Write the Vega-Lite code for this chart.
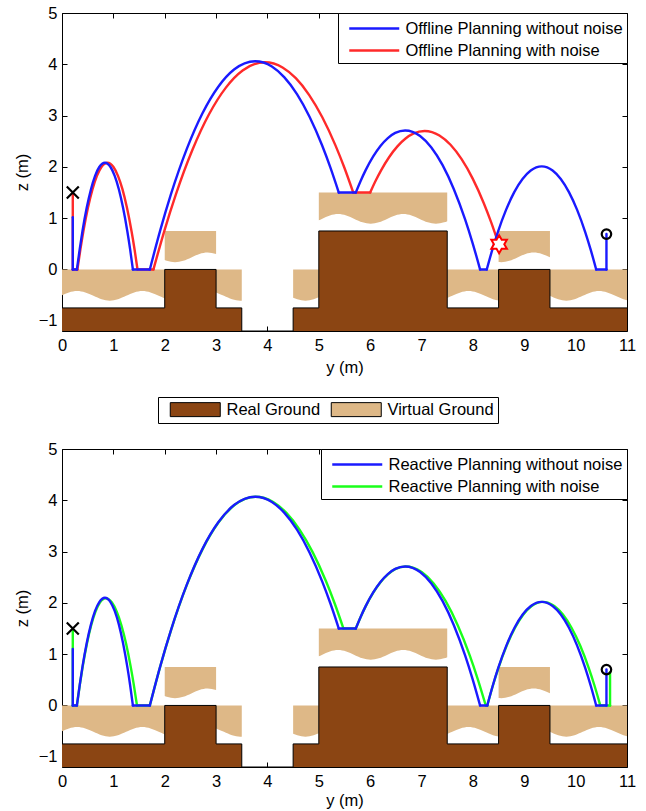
{
  "$schema": "https://vega.github.io/schema/vega-lite/v6.json",
  "background": "white",
  "padding": {"left": 13, "top": 4, "right": 8, "bottom": 2},
  "config": {
    "font": "Liberation Sans",
    "view": {"stroke": "black", "strokeWidth": 1},
    "axis": {"grid": false, "domain": false, "ticks": true, "tickColor": "#000000", "tickSize": -5, "tickWidth": 1, "labelFontSize": 16.5, "labelColor": "black", "labelFont": "Liberation Sans", "titleFontSize": 16.5, "titleFontWeight": "normal", "titleColor": "black", "titleFont": "Liberation Sans", "labelOverlap": false, "labelFlush": false},
    "legend": {"labelFont": "Liberation Sans", "labelFontSize": 16.5, "labelColor": "black", "labelLimit": 400}
  },
  "spacing": 16,
  "resolve": {"scale": {"stroke": "independent", "fill": "independent"}, "legend": {"stroke": "independent", "fill": "independent"}},
  "datasets": {
    "real": [{"y":0,"z":-0.75},{"y":2,"z":0},{"y":3,"z":-0.75},{"y":3.5,"z":-1.2},{"y":4.5,"z":-0.75},{"y":5,"z":0.75},{"y":7.5,"z":-0.75},{"y":8.5,"z":0},{"y":9.5,"z":-0.75},{"y":11,"z":-0.75}],
    "virtual": [
      {"blk":"V1","y":0,"top":0,"bot":-0.504},{"blk":"V1","y":0.135,"top":0,"bot":-0.448},{"blk":"V1","y":0.294,"top":0,"bot":-0.42},{"blk":"V1","y":0.453,"top":0,"bot":-0.448},{"blk":"V1","y":0.612,"top":0,"bot":-0.515},{"blk":"V1","y":0.771,"top":0,"bot":-0.582},{"blk":"V1","y":0.93,"top":0,"bot":-0.61},{"blk":"V1","y":1.089,"top":0,"bot":-0.582},{"blk":"V1","y":1.248,"top":0,"bot":-0.515},{"blk":"V1","y":1.406,"top":0,"bot":-0.448},{"blk":"V1","y":1.565,"top":0,"bot":-0.42},{"blk":"V1","y":1.724,"top":0,"bot":-0.448},{"blk":"V1","y":1.883,"top":0,"bot":-0.515},{"blk":"V1","y":2,"top":0,"bot":-0.567},
      {"blk":"V2","y":2,"top":0.75,"bot":0.183},{"blk":"V2","y":2.041,"top":0.75,"bot":0.168},{"blk":"V2","y":2.2,"top":0.75,"bot":0.14},{"blk":"V2","y":2.359,"top":0.75,"bot":0.168},{"blk":"V2","y":2.518,"top":0.75,"bot":0.235},{"blk":"V2","y":2.676,"top":0.75,"bot":0.302},{"blk":"V2","y":2.835,"top":0.75,"bot":0.33},{"blk":"V2","y":3,"top":0.75,"bot":0.3},
      {"blk":"V3","y":3,"top":0,"bot":-0.45},{"blk":"V3","y":3.153,"top":0,"bot":-0.515},{"blk":"V3","y":3.311,"top":0,"bot":-0.582},{"blk":"V3","y":3.47,"top":0,"bot":-0.61},{"blk":"V3","y":3.5,"top":0,"bot":-0.609},
      {"blk":"V4","y":4.5,"top":0,"bot":-0.551},{"blk":"V4","y":4.581,"top":0,"bot":-0.582},{"blk":"V4","y":4.74,"top":0,"bot":-0.61},{"blk":"V4","y":4.899,"top":0,"bot":-0.582},{"blk":"V4","y":5,"top":0,"bot":-0.542},
      {"blk":"V5","y":5,"top":1.5,"bot":0.958},{"blk":"V5","y":5.058,"top":1.5,"bot":0.985},{"blk":"V5","y":5.216,"top":1.5,"bot":1.052},{"blk":"V5","y":5.375,"top":1.5,"bot":1.08},{"blk":"V5","y":5.534,"top":1.5,"bot":1.052},{"blk":"V5","y":5.693,"top":1.5,"bot":0.985},{"blk":"V5","y":5.851,"top":1.5,"bot":0.918},{"blk":"V5","y":6.01,"top":1.5,"bot":0.89},{"blk":"V5","y":6.169,"top":1.5,"bot":0.918},{"blk":"V5","y":6.328,"top":1.5,"bot":0.985},{"blk":"V5","y":6.486,"top":1.5,"bot":1.052},{"blk":"V5","y":6.645,"top":1.5,"bot":1.08},{"blk":"V5","y":6.804,"top":1.5,"bot":1.052},{"blk":"V5","y":6.963,"top":1.5,"bot":0.985},{"blk":"V5","y":7.121,"top":1.5,"bot":0.918},{"blk":"V5","y":7.28,"top":1.5,"bot":0.89},{"blk":"V5","y":7.439,"top":1.5,"bot":0.918},{"blk":"V5","y":7.5,"top":1.5,"bot":0.941},
      {"blk":"V6","y":7.5,"top":0,"bot":-0.559},{"blk":"V6","y":7.598,"top":0,"bot":-0.515},{"blk":"V6","y":7.756,"top":0,"bot":-0.448},{"blk":"V6","y":7.915,"top":0,"bot":-0.42},{"blk":"V6","y":8.074,"top":0,"bot":-0.448},{"blk":"V6","y":8.233,"top":0,"bot":-0.515},{"blk":"V6","y":8.391,"top":0,"bot":-0.582},{"blk":"V6","y":8.5,"top":0,"bot":-0.607},
      {"blk":"V7","y":8.5,"top":0.75,"bot":0.143},{"blk":"V7","y":8.55,"top":0.75,"bot":0.14},{"blk":"V7","y":8.709,"top":0.75,"bot":0.168},{"blk":"V7","y":8.868,"top":0.75,"bot":0.235},{"blk":"V7","y":9.026,"top":0.75,"bot":0.302},{"blk":"V7","y":9.185,"top":0.75,"bot":0.33},{"blk":"V7","y":9.344,"top":0.75,"bot":0.302},{"blk":"V7","y":9.5,"top":0.75,"bot":0.236},
      {"blk":"V8","y":9.5,"top":0,"bot":-0.514},{"blk":"V8","y":9.661,"top":0,"bot":-0.582},{"blk":"V8","y":9.82,"top":0,"bot":-0.61},{"blk":"V8","y":9.979,"top":0,"bot":-0.582},{"blk":"V8","y":10.138,"top":0,"bot":-0.515},{"blk":"V8","y":10.296,"top":0,"bot":-0.448},{"blk":"V8","y":10.455,"top":0,"bot":-0.42},{"blk":"V8","y":10.614,"top":0,"bot":-0.448},{"blk":"V8","y":10.773,"top":0,"bot":-0.515},{"blk":"V8","y":10.931,"top":0,"bot":-0.582},{"blk":"V8","y":11,"top":0,"bot":-0.601}
    ],
    "markers": [
      {"p":"top","k":"x","y":0.21,"z":1.5},{"p":"top","k":"o","y":10.6,"z":0.69},{"p":"top","k":"star","y":8.51,"z":0.49},
      {"p":"bot","k":"x","y":0.21,"z":1.5},{"p":"bot","k":"o","y":10.6,"z":0.7}
    ],
    "offline": [
      {"s":"with noise","g":"r1","y":0.21,"z":1.5},{"s":"with noise","g":"r1","y":0.21,"z":0},
      {"s":"with noise","g":"r2","y":0.21,"z":0},{"s":"with noise","g":"r2","y":0.3,"z":0},
      {"s":"with noise","g":"r3","y":0.3,"z":0},{"s":"with noise","g":"r3","y":0.359,"z":0.395},{"s":"with noise","g":"r3","y":0.417,"z":0.749},{"s":"with noise","g":"r3","y":0.505,"z":1.201},{"s":"with noise","g":"r3","y":0.593,"z":1.56},{"s":"with noise","g":"r3","y":0.68,"z":1.825},{"s":"with noise","g":"r3","y":0.768,"z":1.997},{"s":"with noise","g":"r3","y":0.885,"z":2.08},{"s":"with noise","g":"r3","y":1.002,"z":1.997},{"s":"with noise","g":"r3","y":1.09,"z":1.825},{"s":"with noise","g":"r3","y":1.178,"z":1.56},{"s":"with noise","g":"r3","y":1.265,"z":1.201},{"s":"with noise","g":"r3","y":1.353,"z":0.749},{"s":"with noise","g":"r3","y":1.412,"z":0.395},{"s":"with noise","g":"r3","y":1.47,"z":0},
      {"s":"with noise","g":"r4","y":1.47,"z":0},{"s":"with noise","g":"r4","y":1.78,"z":0},
      {"s":"with noise","g":"r5","y":1.78,"z":0},{"s":"with noise","g":"r5","y":1.997,"z":0.768},{"s":"with noise","g":"r5","y":2.214,"z":1.454},{"s":"with noise","g":"r5","y":2.54,"z":2.333},{"s":"with noise","g":"r5","y":2.865,"z":3.03},{"s":"with noise","g":"r5","y":3.191,"z":3.545},{"s":"with noise","g":"r5","y":3.516,"z":3.878},{"s":"with noise","g":"r5","y":3.95,"z":4.04},{"s":"with noise","g":"r5","y":4.294,"z":3.938},{"s":"with noise","g":"r5","y":4.552,"z":3.729},{"s":"with noise","g":"r5","y":4.81,"z":3.405},{"s":"with noise","g":"r5","y":5.068,"z":2.967},{"s":"with noise","g":"r5","y":5.326,"z":2.414},{"s":"with noise","g":"r5","y":5.498,"z":1.983},{"s":"with noise","g":"r5","y":5.67,"z":1.5},
      {"s":"with noise","g":"r6","y":5.67,"z":1.5},{"s":"with noise","g":"r6","y":6.0,"z":1.5},
      {"s":"with noise","g":"r7","y":6.0,"z":1.5},{"s":"with noise","g":"r7","y":6.106,"z":1.728},{"s":"with noise","g":"r7","y":6.212,"z":1.932},{"s":"with noise","g":"r7","y":6.371,"z":2.193},{"s":"with noise","g":"r7","y":6.53,"z":2.4},{"s":"with noise","g":"r7","y":6.689,"z":2.553},{"s":"with noise","g":"r7","y":6.848,"z":2.652},{"s":"with noise","g":"r7","y":7.06,"z":2.7},{"s":"with noise","g":"r7","y":7.348,"z":2.612},{"s":"with noise","g":"r7","y":7.564,"z":2.431},{"s":"with noise","g":"r7","y":7.78,"z":2.15},{"s":"with noise","g":"r7","y":7.996,"z":1.771},{"s":"with noise","g":"r7","y":8.212,"z":1.292},{"s":"with noise","g":"r7","y":8.356,"z":0.918},{"s":"with noise","g":"r7","y":8.5,"z":0.5},
      {"s":"without noise","g":"b1","y":0.21,"z":1.02},{"s":"without noise","g":"b1","y":0.21,"z":0},
      {"s":"without noise","g":"b2","y":0.21,"z":0},{"s":"without noise","g":"b2","y":0.29,"z":0},
      {"s":"without noise","g":"b3","y":0.29,"z":0},{"s":"without noise","g":"b3","y":0.345,"z":0.395},{"s":"without noise","g":"b3","y":0.399,"z":0.749},{"s":"without noise","g":"b3","y":0.481,"z":1.201},{"s":"without noise","g":"b3","y":0.563,"z":1.56},{"s":"without noise","g":"b3","y":0.644,"z":1.825},{"s":"without noise","g":"b3","y":0.726,"z":1.997},{"s":"without noise","g":"b3","y":0.835,"z":2.08},{"s":"without noise","g":"b3","y":0.944,"z":1.997},{"s":"without noise","g":"b3","y":1.026,"z":1.825},{"s":"without noise","g":"b3","y":1.108,"z":1.56},{"s":"without noise","g":"b3","y":1.189,"z":1.201},{"s":"without noise","g":"b3","y":1.271,"z":0.749},{"s":"without noise","g":"b3","y":1.326,"z":0.395},{"s":"without noise","g":"b3","y":1.38,"z":0},
      {"s":"without noise","g":"b4","y":1.38,"z":0},{"s":"without noise","g":"b4","y":1.71,"z":0},
      {"s":"without noise","g":"b5","y":1.71,"z":0},{"s":"without noise","g":"b5","y":1.915,"z":0.771},{"s":"without noise","g":"b5","y":2.12,"z":1.462},{"s":"without noise","g":"b5","y":2.428,"z":2.345},{"s":"without noise","g":"b5","y":2.735,"z":3.045},{"s":"without noise","g":"b5","y":3.043,"z":3.563},{"s":"without noise","g":"b5","y":3.35,"z":3.898},{"s":"without noise","g":"b5","y":3.76,"z":4.06},{"s":"without noise","g":"b5","y":4.086,"z":3.958},{"s":"without noise","g":"b5","y":4.33,"z":3.746},{"s":"without noise","g":"b5","y":4.575,"z":3.42},{"s":"without noise","g":"b5","y":4.819,"z":2.978},{"s":"without noise","g":"b5","y":5.063,"z":2.422},{"s":"without noise","g":"b5","y":5.226,"z":1.986},{"s":"without noise","g":"b5","y":5.389,"z":1.5},
      {"s":"without noise","g":"b6","y":5.389,"z":1.5},{"s":"without noise","g":"b6","y":5.72,"z":1.5},
      {"s":"without noise","g":"b7","y":5.72,"z":1.5},{"s":"without noise","g":"b7","y":5.816,"z":1.73},{"s":"without noise","g":"b7","y":5.912,"z":1.936},{"s":"without noise","g":"b7","y":6.056,"z":2.199},{"s":"without noise","g":"b7","y":6.2,"z":2.408},{"s":"without noise","g":"b7","y":6.344,"z":2.562},{"s":"without noise","g":"b7","y":6.488,"z":2.662},{"s":"without noise","g":"b7","y":6.68,"z":2.71},{"s":"without noise","g":"b7","y":6.972,"z":2.602},{"s":"without noise","g":"b7","y":7.191,"z":2.378},{"s":"without noise","g":"b7","y":7.41,"z":2.033},{"s":"without noise","g":"b7","y":7.629,"z":1.565},{"s":"without noise","g":"b7","y":7.848,"z":0.976},{"s":"without noise","g":"b7","y":7.994,"z":0.515},{"s":"without noise","g":"b7","y":8.14,"z":0},
      {"s":"without noise","g":"b8","y":8.14,"z":0},{"s":"without noise","g":"b8","y":8.27,"z":0},
      {"s":"without noise","g":"b9","y":8.27,"z":0},{"s":"without noise","g":"b9","y":8.377,"z":0.382},{"s":"without noise","g":"b9","y":8.484,"z":0.724},{"s":"without noise","g":"b9","y":8.645,"z":1.161},{"s":"without noise","g":"b9","y":8.805,"z":1.508},{"s":"without noise","g":"b9","y":8.966,"z":1.764},{"s":"without noise","g":"b9","y":9.126,"z":1.93},{"s":"without noise","g":"b9","y":9.34,"z":2.01},{"s":"without noise","g":"b9","y":9.552,"z":1.93},{"s":"without noise","g":"b9","y":9.711,"z":1.764},{"s":"without noise","g":"b9","y":9.87,"z":1.508},{"s":"without noise","g":"b9","y":10.029,"z":1.161},{"s":"without noise","g":"b9","y":10.188,"z":0.724},{"s":"without noise","g":"b9","y":10.294,"z":0.382},{"s":"without noise","g":"b9","y":10.4,"z":0},
      {"s":"without noise","g":"b10","y":10.4,"z":0},{"s":"without noise","g":"b10","y":10.6,"z":0},
      {"s":"without noise","g":"b11","y":10.6,"z":0},{"s":"without noise","g":"b11","y":10.6,"z":0.69}
    ],
    "reactive": [
      {"s":"with noise","g":"g1","y":0.21,"z":1.5},{"s":"with noise","g":"g1","y":0.21,"z":0},
      {"s":"with noise","g":"g2","y":0.21,"z":0},{"s":"with noise","g":"g2","y":0.29,"z":0},
      {"s":"with noise","g":"g3","y":0.29,"z":0},{"s":"with noise","g":"g3","y":0.346,"z":0.397},{"s":"with noise","g":"g3","y":0.402,"z":0.752},{"s":"with noise","g":"g3","y":0.486,"z":1.207},{"s":"with noise","g":"g3","y":0.57,"z":1.568},{"s":"with noise","g":"g3","y":0.654,"z":1.834},{"s":"with noise","g":"g3","y":0.738,"z":2.006},{"s":"with noise","g":"g3","y":0.85,"z":2.09},{"s":"with noise","g":"g3","y":0.972,"z":2.006},{"s":"with noise","g":"g3","y":1.064,"z":1.834},{"s":"with noise","g":"g3","y":1.155,"z":1.568},{"s":"with noise","g":"g3","y":1.247,"z":1.207},{"s":"with noise","g":"g3","y":1.338,"z":0.752},{"s":"with noise","g":"g3","y":1.399,"z":0.397},{"s":"with noise","g":"g3","y":1.46,"z":0},
      {"s":"with noise","g":"g4","y":1.46,"z":0},{"s":"with noise","g":"g4","y":1.71,"z":0},
      {"s":"with noise","g":"g5","y":1.71,"z":0},{"s":"with noise","g":"g5","y":1.916,"z":0.773},{"s":"with noise","g":"g5","y":2.122,"z":1.465},{"s":"with noise","g":"g5","y":2.431,"z":2.35},{"s":"with noise","g":"g5","y":2.74,"z":3.053},{"s":"with noise","g":"g5","y":3.049,"z":3.571},{"s":"with noise","g":"g5","y":3.358,"z":3.907},{"s":"with noise","g":"g5","y":3.77,"z":4.07},{"s":"with noise","g":"g5","y":4.112,"z":3.967},{"s":"with noise","g":"g5","y":4.369,"z":3.755},{"s":"with noise","g":"g5","y":4.625,"z":3.428},{"s":"with noise","g":"g5","y":4.882,"z":2.984},{"s":"with noise","g":"g5","y":5.138,"z":2.425},{"s":"with noise","g":"g5","y":5.309,"z":1.988},{"s":"with noise","g":"g5","y":5.48,"z":1.5},
      {"s":"with noise","g":"g6","y":5.48,"z":1.5},{"s":"with noise","g":"g6","y":5.72,"z":1.5},
      {"s":"with noise","g":"g7","y":5.72,"z":1.5},{"s":"with noise","g":"g7","y":5.817,"z":1.73},{"s":"with noise","g":"g7","y":5.914,"z":1.936},{"s":"with noise","g":"g7","y":6.06,"z":2.199},{"s":"with noise","g":"g7","y":6.205,"z":2.408},{"s":"with noise","g":"g7","y":6.351,"z":2.562},{"s":"with noise","g":"g7","y":6.496,"z":2.662},{"s":"with noise","g":"g7","y":6.69,"z":2.71},{"s":"with noise","g":"g7","y":7.002,"z":2.602},{"s":"with noise","g":"g7","y":7.236,"z":2.378},{"s":"with noise","g":"g7","y":7.47,"z":2.033},{"s":"with noise","g":"g7","y":7.704,"z":1.565},{"s":"with noise","g":"g7","y":7.938,"z":0.976},{"s":"with noise","g":"g7","y":8.094,"z":0.515},{"s":"with noise","g":"g7","y":8.25,"z":0},
      {"s":"with noise","g":"g8","y":8.25,"z":0},{"s":"with noise","g":"g8","y":8.28,"z":0},
      {"s":"with noise","g":"g9","y":8.28,"z":0},{"s":"with noise","g":"g9","y":8.388,"z":0.384},{"s":"with noise","g":"g9","y":8.496,"z":0.727},{"s":"with noise","g":"g9","y":8.658,"z":1.167},{"s":"with noise","g":"g9","y":8.82,"z":1.515},{"s":"with noise","g":"g9","y":8.982,"z":1.773},{"s":"with noise","g":"g9","y":9.144,"z":1.939},{"s":"with noise","g":"g9","y":9.36,"z":2.02},{"s":"with noise","g":"g9","y":9.584,"z":1.939},{"s":"with noise","g":"g9","y":9.752,"z":1.773},{"s":"with noise","g":"g9","y":9.92,"z":1.515},{"s":"with noise","g":"g9","y":10.088,"z":1.167},{"s":"with noise","g":"g9","y":10.256,"z":0.727},{"s":"with noise","g":"g9","y":10.368,"z":0.384},{"s":"with noise","g":"g9","y":10.48,"z":0},
      {"s":"with noise","g":"g10","y":10.48,"z":0},{"s":"with noise","g":"g10","y":10.67,"z":0},
      {"s":"with noise","g":"g11","y":10.67,"z":0},{"s":"with noise","g":"g11","y":10.67,"z":0.65},
      {"s":"without noise","g":"b1","y":0.21,"z":1.1},{"s":"without noise","g":"b1","y":0.21,"z":0},
      {"s":"without noise","g":"b2","y":0.21,"z":0},{"s":"without noise","g":"b2","y":0.29,"z":0},
      {"s":"without noise","g":"b3","y":0.29,"z":0},{"s":"without noise","g":"b3","y":0.345,"z":0.399},{"s":"without noise","g":"b3","y":0.399,"z":0.756},{"s":"without noise","g":"b3","y":0.481,"z":1.213},{"s":"without noise","g":"b3","y":0.563,"z":1.575},{"s":"without noise","g":"b3","y":0.644,"z":1.843},{"s":"without noise","g":"b3","y":0.726,"z":2.016},{"s":"without noise","g":"b3","y":0.835,"z":2.1},{"s":"without noise","g":"b3","y":0.944,"z":2.016},{"s":"without noise","g":"b3","y":1.026,"z":1.843},{"s":"without noise","g":"b3","y":1.108,"z":1.575},{"s":"without noise","g":"b3","y":1.189,"z":1.213},{"s":"without noise","g":"b3","y":1.271,"z":0.756},{"s":"without noise","g":"b3","y":1.326,"z":0.399},{"s":"without noise","g":"b3","y":1.38,"z":0},
      {"s":"without noise","g":"b4","y":1.38,"z":0},{"s":"without noise","g":"b4","y":1.71,"z":0},
      {"s":"without noise","g":"b5","y":1.71,"z":0},{"s":"without noise","g":"b5","y":1.915,"z":0.773},{"s":"without noise","g":"b5","y":2.12,"z":1.465},{"s":"without noise","g":"b5","y":2.428,"z":2.35},{"s":"without noise","g":"b5","y":2.735,"z":3.053},{"s":"without noise","g":"b5","y":3.043,"z":3.571},{"s":"without noise","g":"b5","y":3.35,"z":3.907},{"s":"without noise","g":"b5","y":3.76,"z":4.07},{"s":"without noise","g":"b5","y":4.086,"z":3.967},{"s":"without noise","g":"b5","y":4.33,"z":3.755},{"s":"without noise","g":"b5","y":4.575,"z":3.428},{"s":"without noise","g":"b5","y":4.819,"z":2.984},{"s":"without noise","g":"b5","y":5.063,"z":2.425},{"s":"without noise","g":"b5","y":5.226,"z":1.988},{"s":"without noise","g":"b5","y":5.389,"z":1.5},
      {"s":"without noise","g":"b6","y":5.389,"z":1.5},{"s":"without noise","g":"b6","y":5.72,"z":1.5},
      {"s":"without noise","g":"b7","y":5.72,"z":1.5},{"s":"without noise","g":"b7","y":5.816,"z":1.73},{"s":"without noise","g":"b7","y":5.912,"z":1.936},{"s":"without noise","g":"b7","y":6.056,"z":2.199},{"s":"without noise","g":"b7","y":6.2,"z":2.408},{"s":"without noise","g":"b7","y":6.344,"z":2.562},{"s":"without noise","g":"b7","y":6.488,"z":2.662},{"s":"without noise","g":"b7","y":6.68,"z":2.71},{"s":"without noise","g":"b7","y":6.972,"z":2.602},{"s":"without noise","g":"b7","y":7.191,"z":2.378},{"s":"without noise","g":"b7","y":7.41,"z":2.033},{"s":"without noise","g":"b7","y":7.629,"z":1.565},{"s":"without noise","g":"b7","y":7.848,"z":0.976},{"s":"without noise","g":"b7","y":7.994,"z":0.515},{"s":"without noise","g":"b7","y":8.14,"z":0},
      {"s":"without noise","g":"b8","y":8.14,"z":0},{"s":"without noise","g":"b8","y":8.28,"z":0},
      {"s":"without noise","g":"b9","y":8.28,"z":0},{"s":"without noise","g":"b9","y":8.386,"z":0.384},{"s":"without noise","g":"b9","y":8.492,"z":0.727},{"s":"without noise","g":"b9","y":8.651,"z":1.167},{"s":"without noise","g":"b9","y":8.81,"z":1.515},{"s":"without noise","g":"b9","y":8.969,"z":1.773},{"s":"without noise","g":"b9","y":9.128,"z":1.939},{"s":"without noise","g":"b9","y":9.34,"z":2.02},{"s":"without noise","g":"b9","y":9.552,"z":1.939},{"s":"without noise","g":"b9","y":9.711,"z":1.773},{"s":"without noise","g":"b9","y":9.87,"z":1.515},{"s":"without noise","g":"b9","y":10.029,"z":1.167},{"s":"without noise","g":"b9","y":10.188,"z":0.727},{"s":"without noise","g":"b9","y":10.294,"z":0.384},{"s":"without noise","g":"b9","y":10.4,"z":0},
      {"s":"without noise","g":"b10","y":10.4,"z":0},{"s":"without noise","g":"b10","y":10.6,"z":0},
      {"s":"without noise","g":"b11","y":10.6,"z":0},{"s":"without noise","g":"b11","y":10.6,"z":0.7}
    ]
  },
  "vconcat": [
    {
      "width": 565,
      "height": 318,
      "resolve": {"axis": {"x": "independent", "y": "independent"}},
      "layer": [
        {
          "data": {"name": "virtual"},
          "mark": {"type": "area", "interpolate": "monotone"},
          "encoding": {
            "x": {"field": "y", "type": "quantitative", "scale": {"domain": [0, 11], "nice": false, "zero": false}, "axis": {"orient": "bottom", "values": [0,1,2,3,4,5,6,7,8,9,10,11], "title": "y (m)", "labelPadding": 11, "titlePadding": 6}},
            "y": {"field": "top", "type": "quantitative", "scale": {"domain": [-1.2, 5], "nice": false, "zero": false}, "axis": {"orient": "left", "values": [-1,0,1,2,3,4,5], "title": "z (m)", "labelPadding": 10, "titlePadding": 8}},
            "y2": {"field": "bot"},
            "detail": {"field": "blk", "type": "nominal"},
            "fill": {"datum": "Virtual Ground", "type": "nominal", "scale": {"domain": ["Real Ground", "Virtual Ground"], "range": ["#8B4513", "#DEB887"]},
              "legend": {"title": null, "orient": "none", "legendX": 96, "legendY": 384, "direction": "horizontal", "strokeColor": "black", "fillColor": "white", "padding": 4, "symbolType": "M0,-0.933H6.667V0.933H0Z", "symbolSize": 225, "symbolStrokeColor": "black", "symbolStrokeWidth": 1, "labelOffset": 48, "columnPadding": 2}}
          }
        },
        {
          "data": {"name": "real"},
          "mark": {"type": "area", "interpolate": "step-after"},
          "encoding": {
            "x": {"field": "y", "type": "quantitative", "axis": {"orient": "top", "values": [0,1,2,3,4,5,6,7,8,9,10,11], "labels": false, "title": null}},
            "y": {"field": "z", "type": "quantitative", "axis": {"orient": "right", "values": [-1,0,1,2,3,4,5], "labels": false, "title": null}},
            "y2": {"datum": -1.2},
            "fill": {"datum": "Real Ground", "type": "nominal"}
          }
        },
        {
          "data": {"name": "real"},
          "mark": {"type": "line", "interpolate": "step-after", "color": "black", "strokeWidth": 1},
          "encoding": {
            "x": {"field": "y", "type": "quantitative", "axis": null},
            "y": {"field": "z", "type": "quantitative", "axis": null}
          }
        },
        {
          "data": {"name": "offline"},
          "mark": {"type": "line", "interpolate": "monotone", "strokeWidth": 2.4, "strokeCap": "round", "strokeJoin": "round"},
          "encoding": {
            "x": {"field": "y", "type": "quantitative", "axis": null},
            "y": {"field": "z", "type": "quantitative", "axis": null},
            "detail": {"field": "g", "type": "nominal"},
            "stroke": {"field": "s", "type": "nominal", "scale": {"domain": ["without noise", "with noise"], "range": ["#1a1aff", "#ff2a2a"]},
              "legend": {"title": null, "orient": "top-right", "offset": 0, "strokeColor": "black", "fillColor": "white", "padding": 4, "symbolType": "M-0.425,0H4.575", "symbolSize": 400, "symbolStrokeWidth": 2.5, "labelOffset": 40.5, "rowPadding": 2, "labelExpr": "'Offline Planning ' + datum.label"}}
          }
        },
        {
          "data": {"name": "markers"},
          "transform": [{"filter": "datum.p == 'top' && datum.k == 'x'"}],
          "mark": {"type": "point", "shape": "M-1,-1L1,1M1,-1L-1,1", "size": 144, "stroke": "black", "strokeWidth": 2.2, "filled": false, "opacity": 1},
          "encoding": {"x": {"field": "y", "type": "quantitative", "axis": null}, "y": {"field": "z", "type": "quantitative", "axis": null}}
        },
        {
          "data": {"name": "markers"},
          "transform": [{"filter": "datum.p == 'top' && datum.k == 'o'"}],
          "mark": {"type": "point", "shape": "circle", "size": 90, "stroke": "black", "strokeWidth": 2.2, "filled": false, "opacity": 1},
          "encoding": {"x": {"field": "y", "type": "quantitative", "axis": null}, "y": {"field": "z", "type": "quantitative", "axis": null}}
        },
        {
          "data": {"name": "markers"},
          "transform": [{"filter": "datum.p == 'top' && datum.k == 'star'"}],
          "mark": {"type": "point", "shape": "M0,-1L0.289,-0.5L0.866,-0.5L0.577,0L0.866,0.5L0.289,0.5L0,1L-0.289,0.5L-0.866,0.5L-0.577,0L-0.866,-0.5L-0.289,-0.5Z", "size": 324, "stroke": "#ff0000", "fill": "white", "strokeWidth": 2, "filled": true, "opacity": 1},
          "encoding": {"x": {"field": "y", "type": "quantitative", "axis": null}, "y": {"field": "z", "type": "quantitative", "axis": null}}
        }
      ]
    },
    {
      "width": 565,
      "height": 318,
      "resolve": {"axis": {"x": "independent", "y": "independent"}},
      "layer": [
        {
          "data": {"name": "virtual"},
          "mark": {"type": "area", "interpolate": "monotone", "color": "#DEB887"},
          "encoding": {
            "x": {"field": "y", "type": "quantitative", "scale": {"domain": [0, 11], "nice": false, "zero": false}, "axis": {"orient": "bottom", "values": [0,1,2,3,4,5,6,7,8,9,10,11], "title": "y (m)", "labelPadding": 11, "titlePadding": 3}},
            "y": {"field": "top", "type": "quantitative", "scale": {"domain": [-1.2, 5], "nice": false, "zero": false}, "axis": {"orient": "left", "values": [-1,0,1,2,3,4,5], "title": "z (m)", "labelPadding": 10, "titlePadding": 8}},
            "y2": {"field": "bot"},
            "detail": {"field": "blk", "type": "nominal"}
          }
        },
        {
          "data": {"name": "real"},
          "mark": {"type": "area", "interpolate": "step-after", "color": "#8B4513"},
          "encoding": {
            "x": {"field": "y", "type": "quantitative", "axis": {"orient": "top", "values": [0,1,2,3,4,5,6,7,8,9,10,11], "labels": false, "title": null}},
            "y": {"field": "z", "type": "quantitative", "axis": {"orient": "right", "values": [-1,0,1,2,3,4,5], "labels": false, "title": null}},
            "y2": {"datum": -1.2}
          }
        },
        {
          "data": {"name": "real"},
          "mark": {"type": "line", "interpolate": "step-after", "color": "black", "strokeWidth": 1},
          "encoding": {
            "x": {"field": "y", "type": "quantitative", "axis": null},
            "y": {"field": "z", "type": "quantitative", "axis": null}
          }
        },
        {
          "data": {"name": "reactive"},
          "mark": {"type": "line", "interpolate": "monotone", "strokeWidth": 2.4, "strokeCap": "round", "strokeJoin": "round"},
          "encoding": {
            "x": {"field": "y", "type": "quantitative", "axis": null},
            "y": {"field": "z", "type": "quantitative", "axis": null},
            "detail": {"field": "g", "type": "nominal"},
            "stroke": {"field": "s", "type": "nominal", "scale": {"domain": ["without noise", "with noise"], "range": ["#1a1aff", "#1aff1a"]},
              "legend": {"title": null, "orient": "top-right", "offset": 0, "strokeColor": "black", "fillColor": "white", "padding": 4, "symbolType": "M-0.425,0H4.575", "symbolSize": 400, "symbolStrokeWidth": 2.5, "labelOffset": 40.5, "rowPadding": 2, "labelExpr": "'Reactive Planning ' + datum.label"}}
          }
        },
        {
          "data": {"name": "markers"},
          "transform": [{"filter": "datum.p == 'bot' && datum.k == 'x'"}],
          "mark": {"type": "point", "shape": "M-1,-1L1,1M1,-1L-1,1", "size": 144, "stroke": "black", "strokeWidth": 2.2, "filled": false, "opacity": 1},
          "encoding": {"x": {"field": "y", "type": "quantitative", "axis": null}, "y": {"field": "z", "type": "quantitative", "axis": null}}
        },
        {
          "data": {"name": "markers"},
          "transform": [{"filter": "datum.p == 'bot' && datum.k == 'o'"}],
          "mark": {"type": "point", "shape": "circle", "size": 90, "stroke": "black", "strokeWidth": 2.2, "filled": false, "opacity": 1},
          "encoding": {"x": {"field": "y", "type": "quantitative", "axis": null}, "y": {"field": "z", "type": "quantitative", "axis": null}}
        }
      ]
    }
  ]
}
